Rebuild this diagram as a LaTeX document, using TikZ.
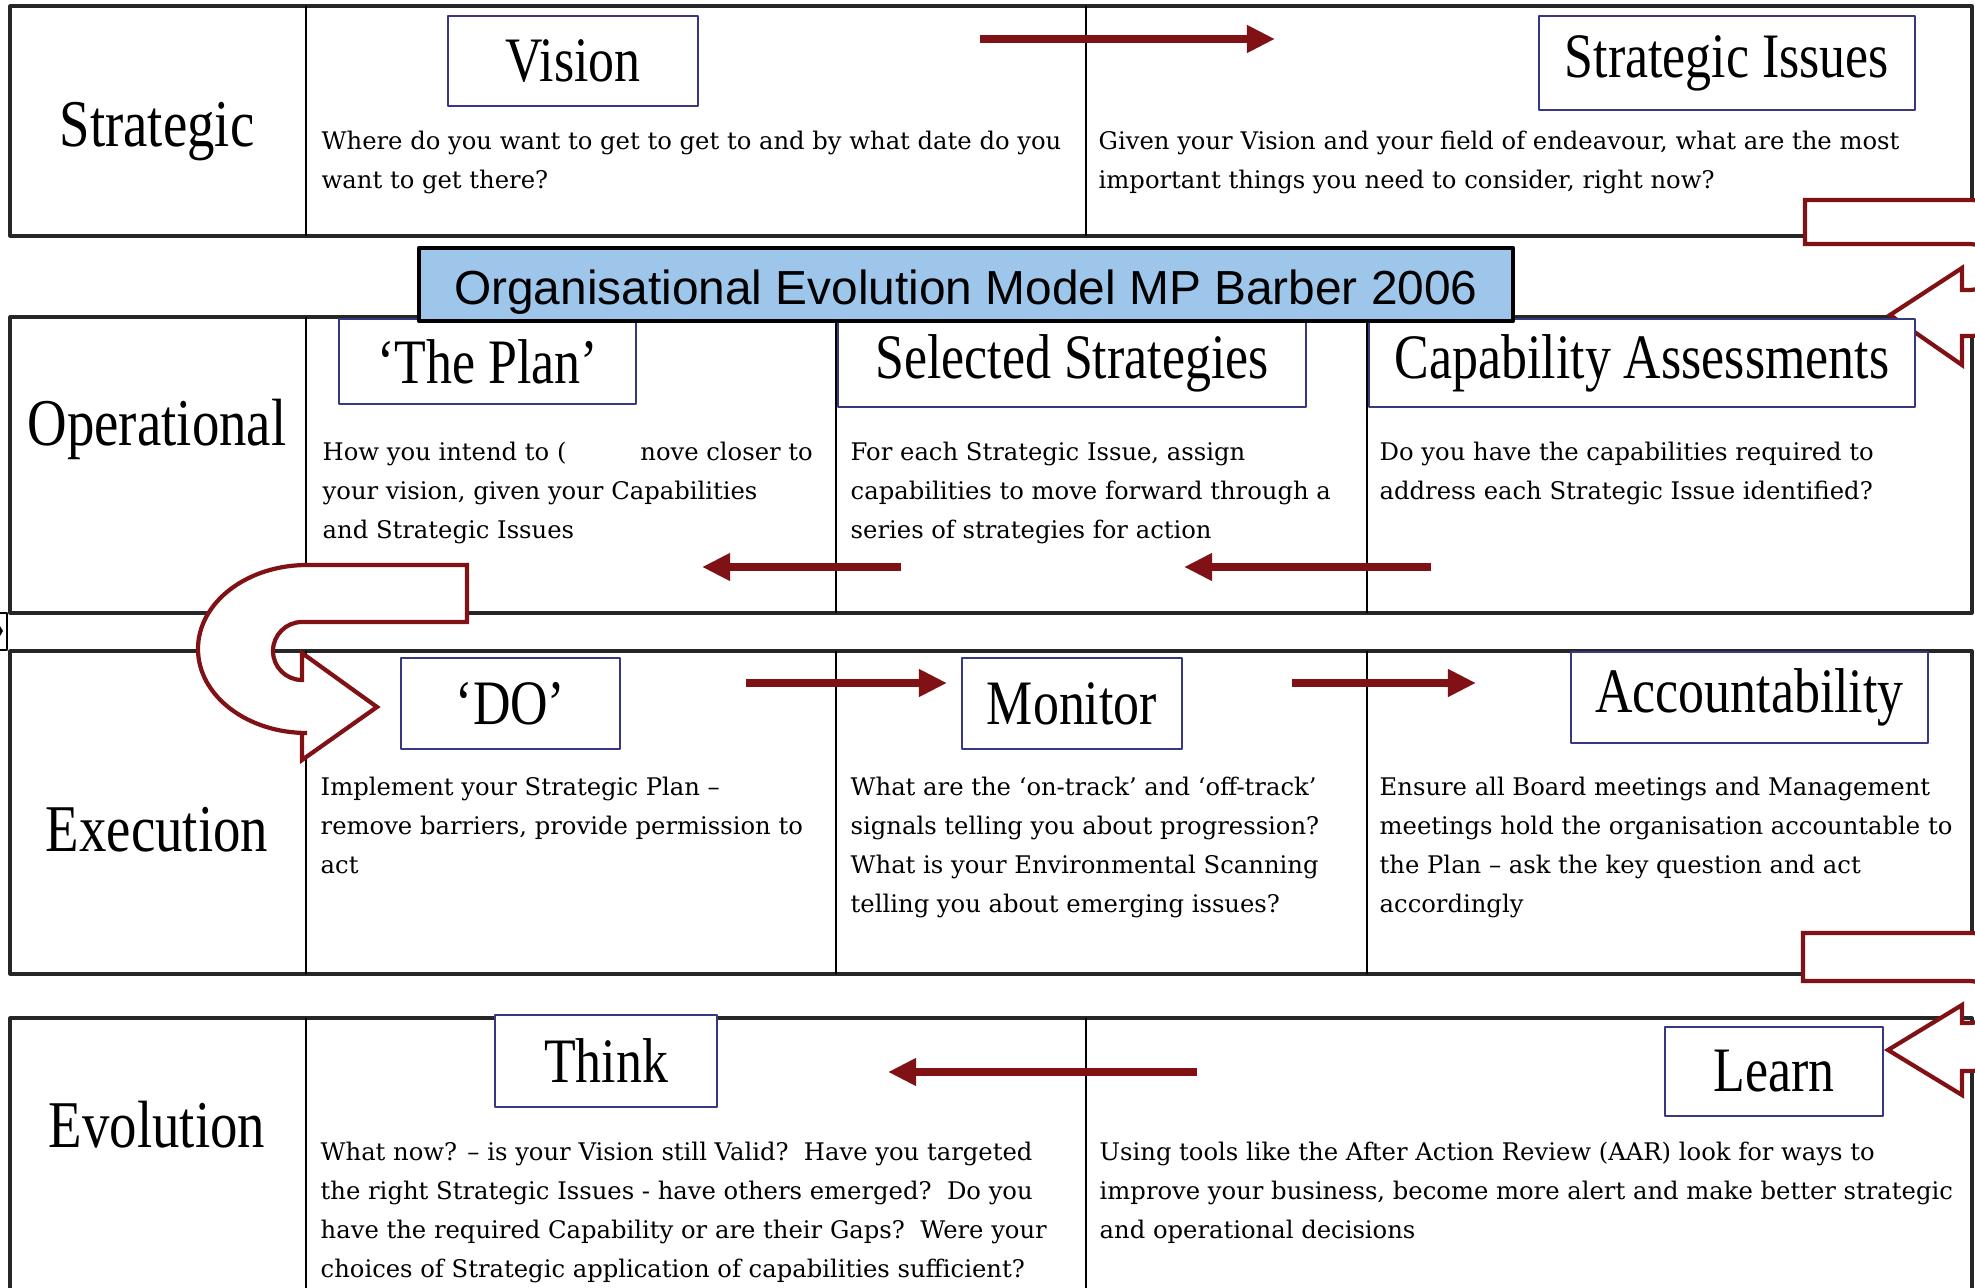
\documentclass[tikz,border=0pt]{standalone}
\usepackage{fontspec}
\setmainfont{Liberation Serif}
\newfontfamily\headfont[FakeStretch=0.82]{Liberation Serif}
\newfontfamily\bodyfont{DejaVu Serif}
\newfontfamily\titlefont{Liberation Sans}
\usetikzlibrary{arrows.meta}
\definecolor{arrowred}{RGB}{128,18,22}
\definecolor{boxnavy}{RGB}{55,55,130}
\definecolor{titleblue}{RGB}{158,198,234}
\tikzset{
  rowline/.style={line width=0.9pt, draw=black!85},
  colline/.style={line width=0.6pt, draw=black},
  rowhead/.style={inner sep=0pt, text depth=0pt, font=\headfont\fontsize{19}{21}\selectfont},
  lblbox/.style={draw=boxnavy, line width=0.7pt, fill=white, inner sep=0pt,
    font=\headfont\fontsize{18}{20}\selectfont},
  bodytxt/.style={anchor=north west, inner sep=0pt, align=left,
    font=\bodyfont\fontsize{6.9}{11.1}\selectfont},
  flow/.style={draw=arrowred, line width=2.5pt, -{Triangle[length=2.8mm,width=2.6mm]}},
  uturn/.style={draw=arrowred, line width=1.2pt, fill=white, line join=miter},
  titlebox/.style={draw=black, line width=1.1pt, fill=titleblue, inner sep=0pt,
    text height=11.5pt, text depth=0pt, font=\titlefont\fontsize{13.6}{15}\selectfont}
}
\begin{document}
\begin{tikzpicture}[x=0.01cm, y=-0.01cm, line join=round]
\useasboundingbox (0,0) rectangle (1975,1288);
\clip (0,0) rectangle (1975,1288);
% rows and columns
\draw[rowline] (10,6) rectangle (1972,236)
  (10,317) rectangle (1972,613)
  (10,651) rectangle (1972,974)
  (10,1018) rectangle (1972,1300);
\foreach \x/\ya/\yb in {306/6/236, 1086/6/236, 306/317/613, 836/317/613, 1367/317/613,
  306/651/974, 836/651/974, 1367/651/974, 306/1018/1300, 1086/1018/1300}
  \draw[colline] (\x,\ya) -- (\x,\yb);
\draw[line width=0.6pt] (0,613) -- (7,613) -- (7,650) -- (0,650);
\fill (0,626) -- (3,631) -- (0,636) -- cycle;
% straight arrows
\path
  (980,39) coordinate (v1) (1275,39) coordinate (v2)
  (1431,567) coordinate (c1) (1184,567) coordinate (c2)
  (901,567) coordinate (s1) (702,567) coordinate (s2)
  (746,683) coordinate (d1) (947,683) coordinate (d2)
  (1292,683) coordinate (m1) (1476,683) coordinate (m2)
  (1197,1072) coordinate (l1) (888,1072) coordinate (l2);
\foreach \a/\b in {v1/v2, c1/c2, s1/s2, d1/d2, m1/m2, l1/l2}
  \draw[flow] (\a) -- (\b);
% turning arrows
\draw[uturn] (1805,200) -- (1970,200) arc[start angle=-90, end angle=90, radius=68]
  -- (1962,336) -- (1962,365) -- (1890,315) -- (1962,268) -- (1962,290) -- (1970,290)
  arc[start angle=90, end angle=-90, radius=23] -- (1805,244) -- cycle;
\draw[uturn] (1803,933) -- (1970,933) arc[start angle=-90, end angle=90, radius=69]
  -- (1962,1071) -- (1962,1095) -- (1888,1050) -- (1962,1005) -- (1962,1023) -- (1970,1023)
  arc[start angle=90, end angle=-90, radius=21] -- (1803,981) -- cycle;
\draw[uturn] (467,565) -- (307,565) arc[start angle=-90, end angle=-270, x radius=109, y radius=84]
  -- (302,733) -- (302,760) -- (377,707) -- (302,653) -- (302,680)
  arc[start angle=90, end angle=270, radius=29] -- (467,622) -- cycle;
% row headings
\foreach \n/\y/\t in {strat/124/Strategic, oper/422/Operational, exec/829/Execution, evol/1124/Evolution}
  \node[rowhead] (\n) at (157,\y) {\t};
% stage boxes
\foreach \n/\x/\y/\w/\h/\t in {vision/573/61/2.50/0.90/Vision,
  issues/1727/63/3.76/0.94/Strategic Issues,
  plan/487.5/361.5/2.97/0.85/‘The Plan’,
  select/1072/363/4.68/0.88/Selected Strategies,
  capab/1642/363/5.46/0.88/Capability Assessments,
  do/510.5/703.5/2.19/0.91/‘DO’,
  monitor/1072/703.5/2.20/0.91/Monitor,
  account/1749.5/697.5/3.57/0.91/Accountability,
  think/606/1061/2.22/0.92/Think,
  learn/1774/1071.5/2.18/0.89/Learn}
  \node[lblbox, minimum width=\w cm, minimum height=\h cm] (\n) at (\x,\y) {\t};
% descriptions
\node[bodytxt] (visiontxt) at (321,130) {Where do you want to get to get to and by what date do you\\want to get there?};
\node[bodytxt] (issuestxt) at (1098,130) {Given your Vision and your field of endeavour, what are the most\\important things you need to consider, right now?};
\node[bodytxt] (plantxt) at (322,441) {How you intend to (\hspace{21pt}nove closer to\\your vision, given your Capabilities\\and Strategic Issues};
\node[bodytxt] (selecttxt) at (850,441) {For each Strategic Issue, assign\\capabilities to move forward through a\\series of strategies for action};
\node[bodytxt] (capabtxt) at (1379,441) {Do you have the capabilities required to\\address each Strategic Issue identified?};
\node[bodytxt] (dotxt) at (320,776) {Implement your Strategic Plan –\\remove barriers, provide permission to\\act};
\node[bodytxt] (monitortxt) at (850,776) {What are the ‘on-track’ and ‘off-track’\\signals telling you about progression?\\What is your Environmental Scanning\\telling you about emerging issues?};
\node[bodytxt] (accounttxt) at (1379,776) {Ensure all Board meetings and Management\\meetings hold the organisation accountable to\\the Plan – ask the key question and act\\accordingly};
\node[bodytxt] (thinktxt) at (320,1141) {What now? – is your Vision still Valid?\ \ Have you targeted\\the right Strategic Issues - have others emerged?\ \ Do you\\have the required Capability or are their Gaps?\ \ Were your\\choices of Strategic application of capabilities sufficient?};
\node[bodytxt] (learntxt) at (1099,1141) {Using tools like the After Action Review (AAR) look for ways to\\improve your business, become more alert and make better strategic\\and operational decisions};
% title
\node[titlebox, minimum width=10.94cm, minimum height=0.73cm] (title) at (966,284.5) {Organisational Evolution Model MP Barber 2006};
\end{tikzpicture}
\end{document}
